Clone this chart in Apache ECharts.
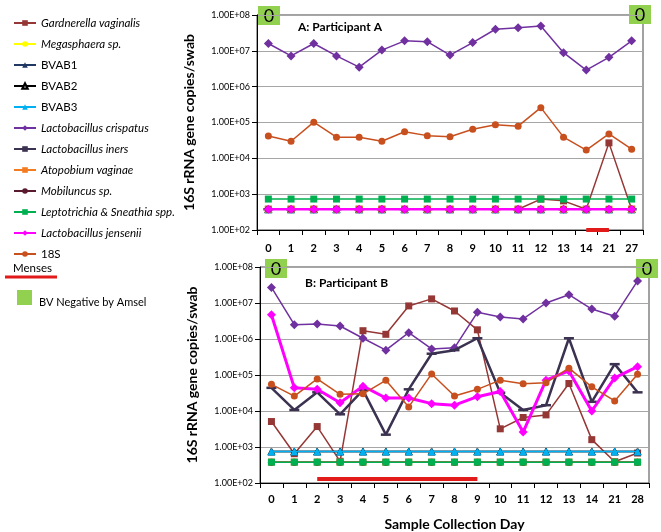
<!DOCTYPE html>
<html>
<head>
<meta charset="utf-8">
<script src="https://cdn.jsdelivr.net/npm/echarts@6/dist/echarts.min.js"></script>
<style>
html,body{margin:0;padding:0;background:#fff;}
#chart{width:661px;height:532px;}
</style>
</head>
<body>
<div id="chart"></div>
<script>
// ---- Data ----
var catsA = ['0','1','2','3','4','5','6','7','8','9','10','11','12','13','14','21','27'];
var catsB = ['0','1','2','3','4','5','6','7','8','9','10','11','12','13','14','21','28'];
var yTickLabels = ['1.00E+02','1.00E+03','1.00E+04','1.00E+05','1.00E+06','1.00E+07','1.00E+08'];

var seriesNames = ['Gardnerella vaginalis','Megasphaera sp.','BVAB1','BVAB2','BVAB3','Lactobacillus crispatus','Lactobacillus iners','Atopobium vaginae','Mobiluncus sp.','Leptotrichia & Sneathia spp.','Lactobacillus jensenii','18S'];

// Participant A
var A_gardnerella = [380,380,380,380,380,380,380,380,380,380,380,380,730,650,380,27000,380];
var A_megasphaera = [380,380,380,380,380,380,380,380,380,380,380,380,380,380,380,380,380];
var A_bvab1 = [380,380,380,380,380,380,380,380,380,380,380,380,380,380,380,380,380];
var A_bvab2 = [380,380,380,380,380,380,380,380,380,380,380,380,380,380,380,380,380];
var A_bvab3 = [380,380,380,380,380,380,380,380,380,380,380,380,380,380,380,380,380];
var A_crispatus = [16000000,7200000,16000000,7200000,3500000,10500000,19000000,18000000,7600000,17000000,40000000,44000000,49000000,8900000,2900000,6600000,19000000];
var A_iners = [380,380,380,380,380,380,380,380,380,380,380,380,380,380,380,380,380];
var A_atopobium = [380,380,380,380,380,380,380,380,380,380,380,380,380,380,380,380,380];
var A_mobiluncus = [380,380,380,380,380,380,380,380,380,380,380,380,380,380,380,380,380];
var A_lepto = [730,730,730,730,730,730,730,730,730,730,730,730,730,730,730,730,730];
var A_jensenii = [380,380,380,380,380,380,380,380,380,380,380,380,380,380,380,380,380];
var A_18s = [42000,30000,102000,39000,39000,30000,55000,43000,40000,65000,87000,79000,260000,39000,17000,48000,18000];

// Participant B
var B_gardnerella = [5100,650,3700,400,1700000,1350000,8300000,13000000,6000000,1800000,3200,6600,7800,58000,1600,390,680];
var B_megasphaera = [380,380,380,380,380,380,380,380,380,380,380,380,380,380,380,380,380];
var B_bvab1 = [750,750,750,750,750,750,750,750,750,750,750,750,750,750,750,750,750];
var B_bvab2 = [750,750,750,750,750,750,750,750,750,750,750,750,750,750,750,750,750];
var B_bvab3 = [750,750,750,750,750,750,750,750,750,750,750,750,750,750,750,750,750];
var B_crispatus = [27000000,2500000,2600000,2300000,1050000,490000,1500000,530000,570000,5500000,4100000,3600000,10000000,17000000,6800000,4300000,41000000];
var B_iners = [44000,10700,33000,8100,38000,2200,40000,390000,490000,1050000,32000,10700,14500,1050000,18000,200000,33000];
var B_atopobium = [380,380,380,380,380,380,380,380,380,380,380,380,380,380,380,380,380];
var B_mobiluncus = [380,380,380,380,380,380,380,380,380,380,380,380,380,380,380,380,380];
var B_lepto = [380,380,380,380,380,380,380,380,380,380,380,380,380,380,380,380,380];
var B_jensenii = [4700000,44000,40000,17000,49000,23000,23000,16000,14500,25000,35000,2600,72000,130000,10000,83000,170000];
var B_18s = [55000,26000,78000,29000,30000,71000,13000,107000,26000,40000,72000,57000,61000,155000,47000,19000,105000];

// Menses periods (category start, end) and bar level
var mensesA = ['14','21'];
var mensesB = ['2','9'];
var mensesLevelA = 100;
var mensesLevelB = 128;

var dataA = [A_gardnerella,A_megasphaera,A_bvab1,A_bvab2,A_bvab3,A_crispatus,A_iners,A_atopobium,A_mobiluncus,A_lepto,A_jensenii,A_18s];
var dataB = [B_gardnerella,B_megasphaera,B_bvab1,B_bvab2,B_bvab3,B_crispatus,B_iners,B_atopobium,B_mobiluncus,B_lepto,B_jensenii,B_18s];

// ---- Styles ----
var styles = [
  {color:'#953735', symbol:'rect', size:7, width:1.5},
  {color:'#FFFF00', symbol:'circle', size:7, width:1.5},
  {color:'#1F3864', symbol:'triangle', size:7, width:1.5},
  {color:'#000000', symbol:'triangle', size:7, width:1.5, fill:'#9A9A9A'},
  {color:'#00B0F0', symbol:'triangle', size:8, width:1.5},
  {color:'#7030A0', symbol:'diamond', size:9, width:1.5},
  {color:'#3B3150', symbol:'rect', size:[10,2.5], width:2.5},
  {color:'#F47C20', symbol:'rect', size:7, width:1.5},
  {color:'#5A1A2E', symbol:'circle', size:7, width:1.5},
  {color:'#00B050', symbol:'rect', size:7, width:1.5},
  {color:'#FF00FF', symbol:'diamond', size:9, width:3},
  {color:'#C8501E', symbol:'circle', size:7, width:1.5}
];
var italic = {'Gardnerella vaginalis':1,'Megasphaera sp.':1,'Lactobacillus crispatus':1,'Lactobacillus iners':1,'Atopobium vaginae':1,'Mobiluncus sp.':1,'Leptotrichia & Sneathia spp.':1,'Lactobacillus jensenii':1};

var FONT = 'Lato';

function makeSeries(idx, data, gi){
  var st = styles[idx];
  var w = st.width;
  if (gi === 0 && idx === 6) w = 1.5;
  if (gi === 0 && idx === 10) w = 2.5;
  return {
    name: seriesNames[idx], type:'line', xAxisIndex:gi, yAxisIndex:gi,
    data: data, symbol: st.symbol, symbolSize: st.size, showAllSymbol:true,
    lineStyle:{color:st.color, width:w},
    itemStyle:{color: st.fill || st.color, borderColor: st.color, borderWidth: st.fill ? 1 : 0},
    emphasis:{disabled:true}, animation:false, z: 2 + idx
  };
}

var series = [];
for (var i=0;i<seriesNames.length;i++) series.push(makeSeries(i, dataA[i], 0));
for (var i=0;i<seriesNames.length;i++) series.push(makeSeries(i, dataB[i], 1));

// Menses bars
series.push({type:'line', xAxisIndex:0, yAxisIndex:0, data:[], silent:true, animation:false,
  markLine:{silent:true, symbol:['none','none'], label:{show:false}, animation:false,
    lineStyle:{color:'#E31A1A', width:4, type:'solid'},
    data:[[{coord:[mensesA[0], mensesLevelA]},{coord:[mensesA[1], mensesLevelA]}]]}});
series.push({type:'line', xAxisIndex:1, yAxisIndex:1, data:[], silent:true, animation:false,
  markLine:{silent:true, symbol:['none','none'], label:{show:false}, animation:false,
    lineStyle:{color:'#E31A1A', width:4, type:'solid'},
    data:[[{coord:[mensesB[0], mensesLevelB]},{coord:[mensesB[1], mensesLevelB]}]]}});

function yAxis(gi){
  return {
    type:'log', logBase:10, min:100, max:100000000, gridIndex:gi,
    name:'16S rRNA gene copies/swab', nameLocation:'middle', nameGap:61,
    nameTextStyle:{fontFamily:FONT, fontWeight:'bold', fontSize:14, color:'#000'},
    axisLine:{show:true, lineStyle:{color:'#000'}},
    axisTick:{show:true, length:5, lineStyle:{color:'#000'}},
    axisLabel:{fontFamily:FONT, fontSize:9, color:'#000', margin:7,
      formatter:function(v){ var e=Math.round(Math.log10(v)); return yTickLabels[e-2]; }},
    splitLine:{show:true, lineStyle:{color:'#A6A6A6', width:1.2}}
  };
}
function xAxis(gi, cats){
  var ax = {
    type:'category', data:cats, gridIndex:gi,
    axisLine:{show:true, onZero:false, lineStyle:{color:'#000'}},
    axisTick:{show:true, length:5, lineStyle:{color:'#000'}},
    axisLabel:{fontFamily:FONT, fontSize:11, fontWeight:'bold', color:'#000', margin: gi===0 ? 13 : 11},
    splitLine:{show:false}
  };
  if (gi===1){
    ax.name = 'Sample Collection Day'; ax.nameLocation='middle'; ax.nameGap=34;
    ax.nameTextStyle = {fontFamily:FONT, fontWeight:'bold', fontSize:14, color:'#000'};
  }
  return ax;
}

function greenBox(x,y){
  return {type:'group', left:x, top:y, children:[
    {type:'rect', shape:{x:0,y:0,width:22,height:19}, style:{fill:'#92D050'}},
    {type:'text', x:11, y:10, style:{text:'0', fontFamily:FONT, fontSize:18, fill:'#000', textAlign:'center', textVerticalAlign:'middle'}}
  ]};
}

var chart = echarts.init(document.getElementById('chart'), null, {renderer:'canvas'});
chart.setOption({
  backgroundColor:'#fff',
  animation:false,
  grid:[
    {left:257, right:18, top:15, height:215, show:true, borderColor:'#444', borderWidth:1, backgroundColor:'transparent'},
    {left:260, right:12, top:267, height:217, show:true, borderColor:'#444', borderWidth:1, backgroundColor:'transparent'}
  ],
  xAxis:[xAxis(0,catsA), xAxis(1,catsB)],
  yAxis:[yAxis(0), yAxis(1)],
  legend:{
    orient:'vertical', left:8, top:11, itemWidth:22, itemHeight:7, itemGap:7.0,
    data: seriesNames, selectedMode:false,
    textStyle:{fontFamily:FONT, fontSize:11.5, color:'#000', lineHeight:14,
      rich:{it:{fontStyle:'italic', fontFamily:FONT, fontSize:11.5, color:'#000'}, n:{fontFamily:FONT, fontSize:11.5, color:'#000'}}},
    formatter:function(n){ return italic[n] ? '{it|'+n+'}' : '{n|'+n+'}'; }
  },
  title:[
    {text:'A: Participant A', left:293, top:16, textStyle:{fontFamily:FONT, fontSize:12, fontWeight:'bold', color:'#000'}},
    {text:'B: Participant B', left:300, top:272, textStyle:{fontFamily:FONT, fontSize:12, fontWeight:'bold', color:'#000'}}
  ],
  graphic:[
    {type:'text', left:13, top:262, style:{text:'Menses', fontFamily:FONT, fontSize:11.5, fill:'#000'}},
    {type:'line', shape:{x1:5,y1:277,x2:57,y2:277}, style:{stroke:'#E31A1A', lineWidth:3}},
    {type:'rect', shape:{x:17,y:290,width:15,height:15}, style:{fill:'#92D050'}},
    {type:'text', left:39, top:297, style:{text:'BV Negative by Amsel', fontFamily:FONT, fontSize:11, fill:'#000'}},
    greenBox(258,6), greenBox(629,5), greenBox(265,259), greenBox(636,259)
  ],
  series: series
});
</script>
</body>
</html>
